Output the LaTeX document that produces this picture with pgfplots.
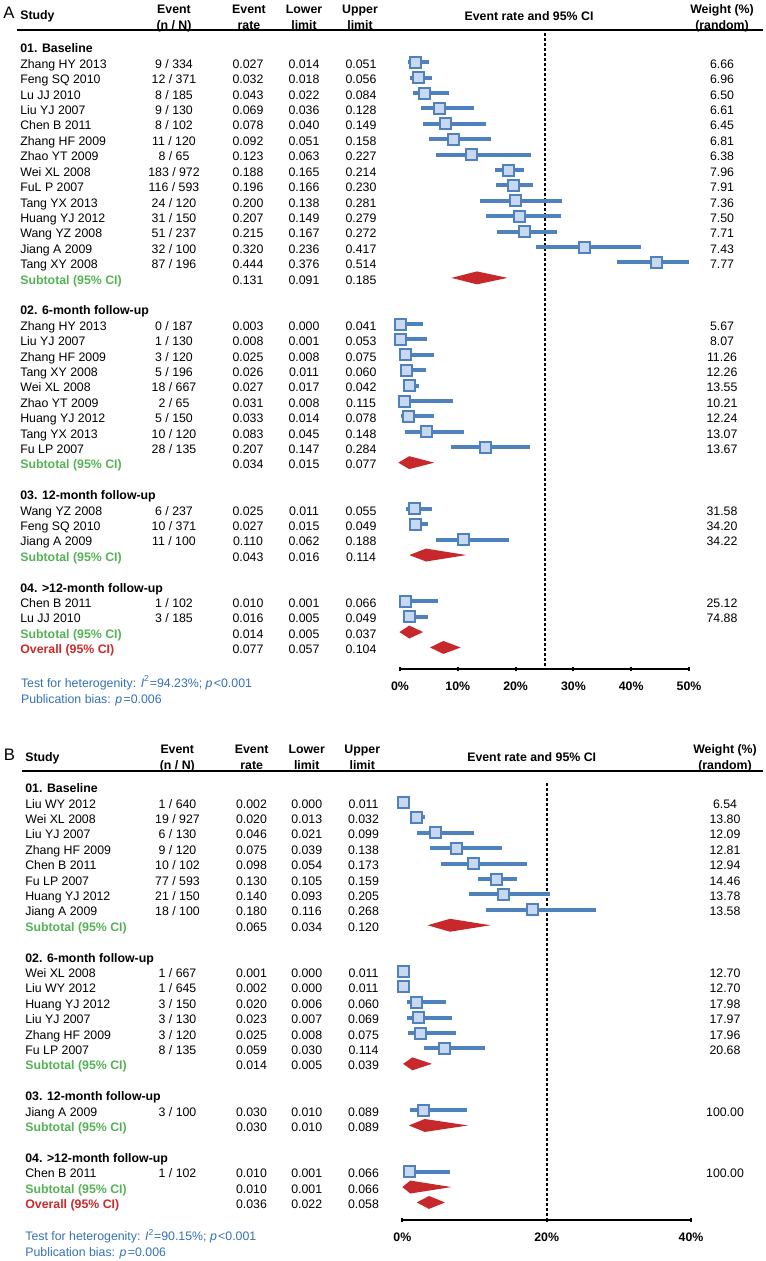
\documentclass[border=0pt]{standalone}
\usepackage{fontspec}
\setmainfont{Liberation Sans}
\usepackage{pgfplots}
\usepackage{pgfplotstable}
\pgfplotsset{compat=1.18}

\definecolor{ciblue}{RGB}{79,129,189}
\definecolor{sqfill}{RGB}{200,216,240}
\definecolor{dmred}{RGB}{198,40,44}
\definecolor{subgreen}{RGB}{86,178,86}
\definecolor{allred}{RGB}{204,42,42}
\definecolor{noteblue}{RGB}{52,112,182}

% plotted positions (percent), y = -row
\pgfplotstableread{
y rate lo hi
-1 2.7 1.4 5.1
-2 3.2 1.8 5.6
-3 4.3 2.2 8.4
-4 6.9 3.6 12.8
-5 7.8 4.0 14.9
-6 9.2 5.1 15.8
-7 12.3 6.3 22.7
-8 18.8 16.5 21.4
-9 19.6 16.6 23.0
-10 20.0 13.8 28.1
-11 20.7 14.9 27.9
-12 21.5 16.7 27.2
-13 32.0 23.6 41.7
-14 44.4 37.6 50.0
-18 0.0 0.0 3.9
-19 0.1 0.0 4.6
-20 0.9 0.0 5.8
-21 1.2 0.3 4.5
-22 1.7 1.0 3.2
-23 0.7 0.0 9.2
-24 1.4 0.1 5.9
-25 4.6 0.9 11.0
-26 14.8 8.8 22.5
-30 2.5 1.1 5.5
-31 2.7 1.5 4.9
-32 11.0 6.2 18.8
-36 1.0 0.1 6.6
-37 1.6 0.5 4.9
}\studiesA

\pgfplotstableread{
y rate lo hi
-1 0.2 0.0 1.1
-2 2.0 1.3 3.2
-3 4.6 2.1 9.9
-4 7.5 3.9 13.8
-5 9.8 5.4 17.3
-6 13.0 10.5 15.9
-7 14.0 9.3 20.5
-8 18.0 11.6 26.8
-12 0.1 0.0 1.1
-13 0.2 0.0 1.1
-14 2.0 0.6 6.0
-15 2.3 0.7 6.9
-16 2.5 0.8 7.5
-17 5.9 3.0 11.4
-21 3.0 1.0 8.9
-25 1.0 0.1 6.6
}\studiesB

\pgfplotsset{
  forest/.style={
    scale only axis, clip=false,
    axis x line=bottom, axis y line=none,
    axis line style={-, line width=1.2pt},
    tick style={line width=1.2pt, black},
    tick align=center, major tick length=2.7pt,
    xticklabel style={font=\fontsize{7.4}{8.9}\selectfont\bfseries,
      inner sep=0pt, text height=0.72em, text depth=0pt},
    xticklabel shift=3.9pt,
    ytick=\empty,
  },
  cibars/.style={only marks, mark=none,
    error bars/.cd, x dir=both, x explicit, error mark=none,
    error bar style={draw=ciblue, line width=2.4pt}},
  squares/.style={only marks, mark=square*, mark size=3.3pt,
    mark options={draw=ciblue, fill=sqfill, line width=1.2pt}},
  refline/.style={black, line width=1.2pt, dash pattern=on 2pt off 1pt},
  diamond/.style={fill=dmred, draw=none},
}

\newcommand\R[7]{%
  \node[lt] at (\cS,{\yO+15.4*#1}) {#2};
  \node[ct] at (\cN,{\yO+15.4*#1}) {#3};
  \node[ct] at (\cR,{\yO+15.4*#1}) {#4};
  \node[ct] at (\cL,{\yO+15.4*#1}) {#5};
  \node[ct] at (\cU,{\yO+15.4*#1}) {#6};
  \node[ct] at (\cW,{\yO+15.4*#1}) {#7};}
\newcommand\G[2]{\node[lt] at (\cS,{\yO+15.4*#1}) {\bfseries #2};}
\newcommand\Sub{\textcolor{subgreen}{\bfseries Subtotal (95\% CI)}}
\newcommand\All{\textcolor{allred}{\bfseries Overall (95\% CI)}}

\begin{document}
\begin{tikzpicture}[font=\fontsize{7.4}{8.9}\selectfont,
  lt/.style={anchor=west, inner sep=0pt, text height=0.72em, text depth=0pt},
  ct/.style={anchor=center, inner sep=0pt, text height=0.72em, text depth=0pt}]
\path[use as bounding box] (0,0) rectangle (459.6pt,-756.6pt);

% ---------- panel A ----------
\begin{axis}[forest, at={(240pt,-401.4pt)}, anchor=south west,
  width=173.4pt, height=382.5pt,
  xmin=0, xmax=50, ymin=-40.4, ymax=1,
  xtick={0,10,20,30,40,50},
  xticklabels={0\%,10\%,20\%,30\%,40\%,50\%}]
  \addplot[refline] coordinates {(25,0.9) (25,-40.4)};
  \addplot[cibars] table[x=rate, y=y,
    x error plus expr=\thisrow{hi}-\thisrow{rate},
    x error minus expr=\thisrow{rate}-\thisrow{lo}] {\studiesA};
  \addplot[squares] table[x=rate, y=y] {\studiesA};
  \addplot[diamond] coordinates {(8.9,-15) (13.3,-14.58) (18.6,-15) (13.3,-15.42)} --cycle;
  \addplot[diamond] coordinates {(-0.3,-27) (1.6,-26.58) (5.9,-27) (1.6,-27.42)} --cycle;
  \addplot[diamond] coordinates {(1.6,-33) (4.5,-32.58) (11.5,-33) (4.5,-33.42)} --cycle;
  \addplot[diamond] coordinates {(-0.1,-38) (1.6,-37.58) (4.0,-38) (1.6,-38.42)} --cycle;
  \addplot[diamond] coordinates {(5.2,-39) (7.5,-38.58) (10.5,-39) (7.5,-39.42)} --cycle;
\end{axis}

% ---------- panel B ----------
\begin{axis}[forest, at={(241.4pt,-732pt)}, anchor=south west,
  width=173.2pt, height=269.25pt,
  xmin=0, xmax=40, ymin=-28.14, ymax=1,
  xtick={0,20,40},
  xticklabels={0\%,20\%,40\%}]
  \addplot[refline] coordinates {(20,0.25) (20,-28.14)};
  \addplot[cibars] table[x=rate, y=y,
    x error plus expr=\thisrow{hi}-\thisrow{rate},
    x error minus expr=\thisrow{rate}-\thisrow{lo}] {\studiesB};
  \addplot[squares] table[x=rate, y=y] {\studiesB};
  \addplot[diamond] coordinates {(3.5,-9) (6.6,-8.58) (12.2,-9) (6.6,-9.42)} --cycle;
  \addplot[diamond] coordinates {(0.1,-18) (1.4,-17.58) (4.1,-18) (1.4,-18.42)} --cycle;
  \addplot[diamond] coordinates {(0.9,-22) (3.1,-21.58) (9.1,-22) (3.1,-22.42)} --cycle;
  \addplot[diamond] coordinates {(0.0,-26) (1.1,-25.58) (6.8,-26) (1.1,-26.42)} --cycle;
  \addplot[diamond] coordinates {(2.0,-27) (3.7,-26.58) (5.9,-27) (3.7,-27.42)} --cycle;
\end{axis}

\begin{scope}[x=0.6pt, y=-0.6pt]
% ---------- panel A text ----------
\node[font=\fontsize{10}{12}\selectfont, inner sep=0pt] at (9,13) {A};
\node[lt] at (20,14) {\bfseries Study};
\foreach \xx/\ta/\tb in {174/Event/{(n / N)}, 249/Event/rate, 304/Lower/limit, 360/Upper/limit, 722/Weight (\%)/(random)}{
  \node[ct] at (\xx,7.5) {\bfseries \ta};
  \node[ct] at (\xx,23.3) {\bfseries \tb};}
\node[ct] at (529,14.3) {\bfseries Event rate and 95\% CI};
\draw[line width=1.2pt] (17,30) -- (763,30);

\def\cS{20}\def\cN{174}\def\cR{248}\def\cL{304}\def\cU{361}\def\cW{722}\def\yO{47}
\G{0}{01. Baseline}
\R{1}{Zhang HY 2013}{9 / 334}{0.027}{0.014}{0.051}{6.66}
\R{2}{Feng SQ 2010}{12 / 371}{0.032}{0.018}{0.056}{6.96}
\R{3}{Lu JJ 2010}{8 / 185}{0.043}{0.022}{0.084}{6.50}
\R{4}{Liu YJ 2007}{9 / 130}{0.069}{0.036}{0.128}{6.61}
\R{5}{Chen B 2011}{8 / 102}{0.078}{0.040}{0.149}{6.45}
\R{6}{Zhang HF 2009}{11 / 120}{0.092}{0.051}{0.158}{6.81}
\R{7}{Zhao YT 2009}{8 / 65}{0.123}{0.063}{0.227}{6.38}
\R{8}{Wei XL 2008}{183 / 972}{0.188}{0.165}{0.214}{7.96}
\R{9}{FuL P 2007}{116 / 593}{0.196}{0.166}{0.230}{7.91}
\R{10}{Tang YX 2013}{24 / 120}{0.200}{0.138}{0.281}{7.36}
\R{11}{Huang YJ 2012}{31 / 150}{0.207}{0.149}{0.279}{7.50}
\R{12}{Wang YZ 2008}{51 / 237}{0.215}{0.167}{0.272}{7.71}
\R{13}{Jiang A 2009}{32 / 100}{0.320}{0.236}{0.417}{7.43}
\R{14}{Tang XY 2008}{87 / 196}{0.444}{0.376}{0.514}{7.77}
\R{15}{\Sub}{}{0.131}{0.091}{0.185}{}
\G{17}{02. 6-month follow-up}
\R{18}{Zhang HY 2013}{0 / 187}{0.003}{0.000}{0.041}{5.67}
\R{19}{Liu YJ 2007}{1 / 130}{0.008}{0.001}{0.053}{8.07}
\R{20}{Zhang HF 2009}{3 / 120}{0.025}{0.008}{0.075}{11.26}
\R{21}{Tang XY 2008}{5 / 196}{0.026}{0.011}{0.060}{12.26}
\R{22}{Wei XL 2008}{18 / 667}{0.027}{0.017}{0.042}{13.55}
\R{23}{Zhao YT 2009}{2 / 65}{0.031}{0.008}{0.115}{10.21}
\R{24}{Huang YJ 2012}{5 / 150}{0.033}{0.014}{0.078}{12.24}
\R{25}{Tang YX 2013}{10 / 120}{0.083}{0.045}{0.148}{13.07}
\R{26}{Fu LP 2007}{28 / 135}{0.207}{0.147}{0.284}{13.67}
\R{27}{\Sub}{}{0.034}{0.015}{0.077}{}
\G{29}{03. 12-month follow-up}
\R{30}{Wang YZ 2008}{6 / 237}{0.025}{0.011}{0.055}{31.58}
\R{31}{Feng SQ 2010}{10 / 371}{0.027}{0.015}{0.049}{34.20}
\R{32}{Jiang A 2009}{11 / 100}{0.110}{0.062}{0.188}{34.22}
\R{33}{\Sub}{}{0.043}{0.016}{0.114}{}
\G{35}{04. >12-month follow-up}
\R{36}{Chen B 2011}{1 / 102}{0.010}{0.001}{0.066}{25.12}
\R{37}{Lu JJ 2010}{3 / 185}{0.016}{0.005}{0.049}{74.88}
\R{38}{\Sub}{}{0.014}{0.005}{0.037}{}
\R{39}{\All}{}{0.077}{0.057}{0.104}{}
\node[lt, text=noteblue] at (20.7,681) {Test for heterogenity: \textit{I}\textsuperscript{2}=94.23\%; \textit{p}\kern0.8pt<0.001};
\node[lt, text=noteblue] at (20.7,697) {Publication bias: \textit{p}\kern0.8pt=0.006};

% ---------- panel B text ----------
\node[font=\fontsize{10}{12}\selectfont, inner sep=0pt] at (9.5,755) {B};
\node[lt] at (25,755) {\bfseries Study};
\foreach \xx/\ta/\tb in {177.3/Event/{(n / N)}, 251.7/Event/rate, 306.7/Lower/limit, 362.3/Upper/limit, 725/Weight (\%)/(random)}{
  \node[ct] at (\xx,747.7) {\bfseries \ta};
  \node[ct] at (\xx,763.3) {\bfseries \tb};}
\node[ct] at (531.7,755) {\bfseries Event rate and 95\% CI};
\draw[line width=1.2pt] (22,770.7) -- (763,770.7);

\def\cS{25}\def\cN{177.5}\def\cR{251.5}\def\cL{306.7}\def\cU{363.5}\def\cW{725}\def\yO{786.7}
\G{0}{01. Baseline}
\R{1}{Liu WY 2012}{1 / 640}{0.002}{0.000}{0.011}{6.54}
\R{2}{Wei XL 2008}{19 / 927}{0.020}{0.013}{0.032}{13.80}
\R{3}{Liu YJ 2007}{6 / 130}{0.046}{0.021}{0.099}{12.09}
\R{4}{Zhang HF 2009}{9 / 120}{0.075}{0.039}{0.138}{12.81}
\R{5}{Chen B 2011}{10 / 102}{0.098}{0.054}{0.173}{12.94}
\R{6}{Fu LP 2007}{77 / 593}{0.130}{0.105}{0.159}{14.46}
\R{7}{Huang YJ 2012}{21 / 150}{0.140}{0.093}{0.205}{13.78}
\R{8}{Jiang A 2009}{18 / 100}{0.180}{0.116}{0.268}{13.58}
\R{9}{\Sub}{}{0.065}{0.034}{0.120}{}
\G{11}{02. 6-month follow-up}
\R{12}{Wei XL 2008}{1 / 667}{0.001}{0.000}{0.011}{12.70}
\R{13}{Liu WY 2012}{1 / 645}{0.002}{0.000}{0.011}{12.70}
\R{14}{Huang YJ 2012}{3 / 150}{0.020}{0.006}{0.060}{17.98}
\R{15}{Liu YJ 2007}{3 / 130}{0.023}{0.007}{0.069}{17.97}
\R{16}{Zhang HF 2009}{3 / 120}{0.025}{0.008}{0.075}{17.96}
\R{17}{Fu LP 2007}{8 / 135}{0.059}{0.030}{0.114}{20.68}
\R{18}{\Sub}{}{0.014}{0.005}{0.039}{}
\G{20}{03. 12-month follow-up}
\R{21}{Jiang A 2009}{3 / 100}{0.030}{0.010}{0.089}{100.00}
\R{22}{\Sub}{}{0.030}{0.010}{0.089}{}
\G{24}{04. >12-month follow-up}
\R{25}{Chen B 2011}{1 / 102}{0.010}{0.001}{0.066}{100.00}
\R{26}{\Sub}{}{0.010}{0.001}{0.066}{}
\R{27}{\All}{}{0.036}{0.022}{0.058}{}
\node[lt, text=noteblue] at (25,1234.3) {Test for heterogenity: \textit{I}\textsuperscript{2}=90.15\%; \textit{p}\kern0.8pt<0.001};
\node[lt, text=noteblue] at (25,1250) {Publication bias: \textit{p}\kern0.8pt=0.006};
\end{scope}
\end{tikzpicture}
\end{document}
